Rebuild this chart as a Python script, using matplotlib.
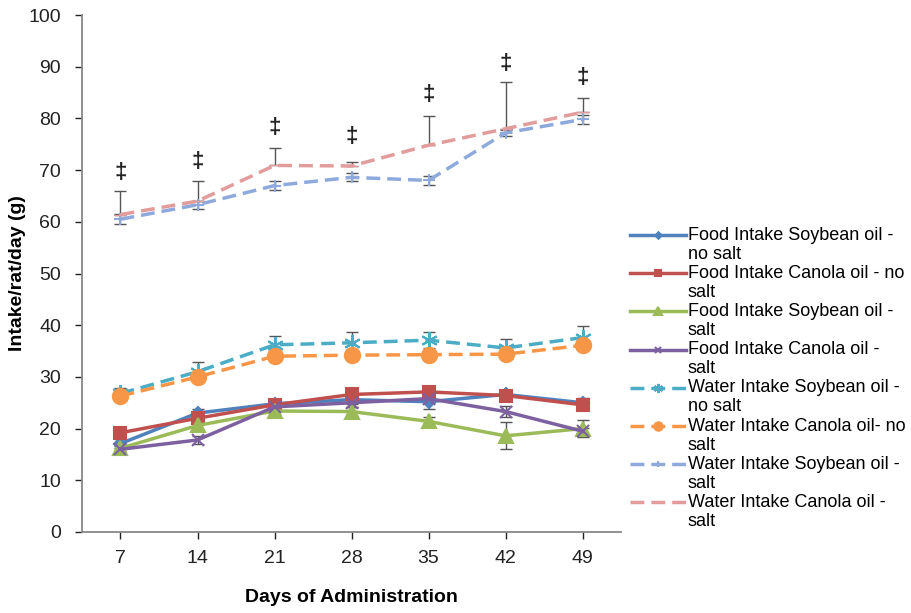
import matplotlib
matplotlib.use("Agg")
import matplotlib.pyplot as plt
from matplotlib.legend_handler import HandlerLine2D
import numpy as np

plt.rcParams['font.family'] = ['Liberation Sans', 'DejaVu Sans']

days = ["7", "14", "21", "28", "35", "42", "49"]

food_soy_nosalt = [17.1, 23.0, 24.8, 25.6, 25.2, 26.6, 25.0]
food_can_nosalt = [19.2, 22.0, 24.6, 26.6, 27.1, 26.4, 24.6]
food_soy_salt = [16.2, 20.6, 23.4, 23.3, 21.4, 18.6, 20.0]
food_can_salt = [16.0, 17.8, 24.2, 25.0, 25.8, 23.3, 19.5]
water_soy_nosalt = [26.8, 31.0, 36.2, 36.6, 37.1, 35.6, 37.6]
water_can_nosalt = [26.3, 30.0, 34.0, 34.2, 34.3, 34.4, 36.1]
water_soy_salt = [60.5, 63.3, 67.0, 68.6, 68.0, 77.2, 79.8]
water_can_salt = [61.4, 64.0, 70.9, 70.8, 74.8, 78.0, 81.2]

err_food_soy_nosalt = [0.8, 0.8, 0.8, 0.8, 1.4, 0.8, 1.0]
err_food_can_nosalt = [0.8, 0.8, 0.8, 0.8, 0.8, 0.8, 0.8]
err_food_soy_salt = [0.6, 0.8, 0.8, 0.8, 0.8, 2.6, 1.6]
err_food_can_salt = [0.6, 0.8, 0.8, 0.8, 0.8, 1.0, 0.6]
err_water_soy_nosalt = [1.0, 1.8, 1.8, 2.0, 1.6, 1.8, 2.2]
err_water_can_nosalt = [0.6, 0.6, 0.6, 0.6, 0.6, 0.6, 0.6]
err_water_soy_salt = [1.0, 0.8, 0.8, 0.8, 0.8, 0.6, 0.8]
err_water_can_salt_up = [4.6, 3.9, 3.3, 0.7, 5.6, 9.0, 2.7]

sig_y = [69.6, 71.7, 78.3, 76.5, 84.6, 90.6, 88.0]
sig_mark = "‡"

labels = [
    "Food Intake Soybean oil -\nno salt",
    "Food Intake Canola oil - no\nsalt",
    "Food Intake Soybean oil -\nsalt",
    "Food Intake Canola oil -\nsalt",
    "Water Intake Soybean oil -\nno salt",
    "Water Intake Canola oil- no\nsalt",
    "Water Intake Soybean oil -\nsalt",
    "Water Intake Canola oil -\nsalt",
]


class TopLineHandler(HandlerLine2D):
    def create_artists(self, legend, orig_handle, xdescent, ydescent, width,
                       height, fontsize, trans):
        artists = super().create_artists(legend, orig_handle, xdescent, ydescent,
                                         width, height, fontsize, trans)
        for a in artists:
            a.set_ydata(np.asarray(a.get_ydata()) + 0.55 * fontsize)
        return artists


fig = plt.figure(figsize=(9.12, 6.13), dpi=100)
ax = fig.add_axes([82/912, (613-532)/613, (621-82)/912, (532-15)/613])

x = np.arange(len(days))

series = [
    (food_soy_nosalt, err_food_soy_nosalt, "#4F81BD", "-", "D", 6, "#4F81BD"),
    (food_can_nosalt, err_food_can_nosalt, "#C0504D", "-", "s", 9, "#C0504D"),
    (food_soy_salt, err_food_soy_salt, "#9BBB59", "-", "^", 10, "#9BBB59"),
    (food_can_salt, err_food_can_salt, "#7D60A0", "-", "x", 9, "#7D60A0"),
    (water_soy_nosalt, err_water_soy_nosalt, "#4BACC6", "--", (6, 2, 0), 12, "#4BACC6"),
    (water_can_nosalt, err_water_can_nosalt, "#F79646", "--", "o", 11, "#F79646"),
    (water_soy_salt, err_water_soy_salt, "#8EA9DB", "--", "+", 8, "#8EA9DB"),
]

handles = []
for (y, e, c, ls, m, ms, mc), lab in zip(series, labels[:7]):
    ax.errorbar(x, y, yerr=e, fmt="none", ecolor="#555555", elinewidth=1,
                capsize=4, capthick=1, zorder=2)
    h, = ax.plot(x, y, color=c, linestyle=ls, linewidth=2.5, marker=m,
                 markersize=ms, markerfacecolor=mc, markeredgecolor=mc,
                 markeredgewidth=1.5, dashes=(4, 2) if ls == "--" else (None, None),
                 label=lab, zorder=3)
    handles.append(h)

ax.errorbar(x, water_can_salt, yerr=[np.zeros(7), err_water_can_salt_up], fmt="none",
            ecolor="#555555", elinewidth=1, capsize=4, capthick=1, zorder=2)
h, = ax.plot(x, water_can_salt, color="#E39C9C", linewidth=2.5, linestyle="--",
             dashes=(4, 2), marker="_", markersize=8, markeredgecolor="#E39C9C",
             label=labels[7], zorder=3)
handles.append(h)

for xi, yi in zip(x, sig_y):
    ax.text(xi, yi, sig_mark, ha="center", va="center", fontsize=16,
            fontweight="bold", color="#222222")

ax.set_xlim(-0.5, 6.5)
ax.set_ylim(0, 100)
ax.set_yticks(np.arange(0, 101, 10))
ax.set_xticks(x)
ax.set_xticklabels(days)
ax.tick_params(axis="both", labelsize=14, colors="#222222", length=5, width=1,
               direction="out", pad=8)
ax.tick_params(axis="y", pad=10)
for s in ["top", "right"]:
    ax.spines[s].set_visible(False)
for s in ["left", "bottom"]:
    ax.spines[s].set_color("#888888")
    ax.spines[s].set_linewidth(1.3)

ax.set_ylabel("Intake/rat/day (g)", fontsize=14, fontweight="bold", labelpad=2)
ax.set_xlabel("Days of Administration", fontsize=14, fontweight="bold", labelpad=16)

leg = fig.legend(handles=handles, labels=labels, loc="upper left",
                 bbox_to_anchor=(621/912, 1 - 218/613), frameon=False,
                 fontsize=13, handlelength=3.1, handletextpad=0.1,
                 labelspacing=0.12, borderpad=0, markerscale=0.55,
                 handler_map={type(handles[0]): TopLineHandler()})
for t in leg.get_texts():
    t.set_linespacing(1.15)

fig.savefig("out.png", dpi=100)
